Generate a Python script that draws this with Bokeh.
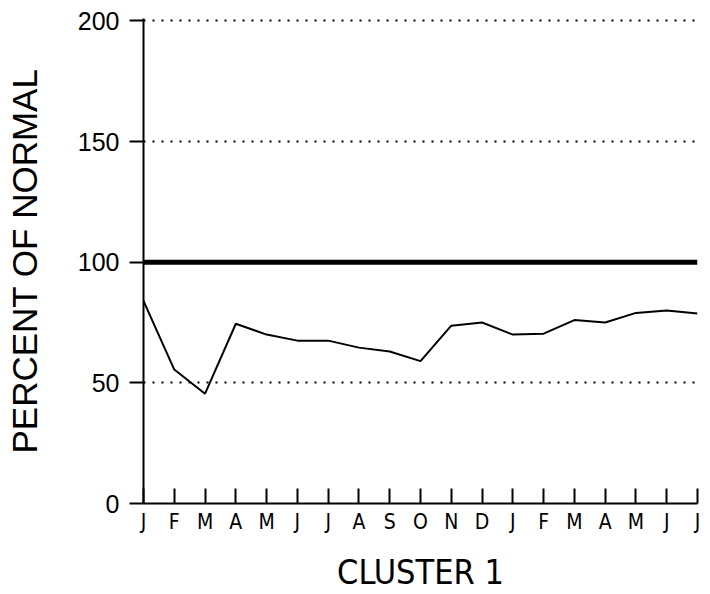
from bokeh.plotting import figure
from bokeh.models import FixedTicker, Span, ColumnDataSource
from bokeh.embed import file_html
from bokeh.resources import INLINE

months = ["J", "F", "M", "A", "M", "J", "J", "A", "S", "O", "N", "D",
          "J", "F", "M", "A", "M", "J", "J"]
percent = [84, 55.5, 45.5, 74.5, 70, 67.5, 67.5, 64.6, 63, 59, 73.7, 75,
           70, 70.4, 76, 75, 79, 80, 78.7]
y_ticks = [0, 50, 100, 150, 200]
normal_level = 100

NARROW = "DejaVu Sans Condensed, Liberation Sans"

idx = list(range(len(months)))
src = ColumnDataSource(dict(x=idx, y=percent))

p = figure(width=702, height=594, output_backend="svg", toolbar_location=None,
           x_range=(0, len(months) - 1), y_range=(0, 201),
           min_border_left=143, min_border_right=5, min_border_top=18,
           min_border_bottom=91)
p.outline_line_color = None
p.background_fill_color = "white"
p.border_fill_color = "white"

# dotted grid
p.xgrid.visible = False
p.ygrid.ticker = FixedTicker(ticks=y_ticks)
p.ygrid.grid_line_color = "black"
p.ygrid.grid_line_dash = "2 7"
p.ygrid.grid_line_width = 2

# normal level
p.add_layout(Span(location=normal_level, dimension="width", line_color="black",
                  line_width=5))

p.line("x", "y", source=src, line_color="black", line_width=2)

# x axis
xa = p.xaxis[0]
xa.ticker = FixedTicker(ticks=idx)
xa.major_label_overrides = {i: m for i, m in enumerate(months)}
xa.major_tick_in = 15
xa.major_tick_out = 0
xa.minor_tick_line_color = None
xa.axis_line_width = 2
xa.major_tick_line_width = 2
xa.axis_line_color = "black"
xa.major_tick_line_color = "black"
xa.major_label_standoff = 6
xa.major_label_text_font = NARROW
xa.major_label_text_font_size = "21px"
xa.major_label_text_color = "black"
xa.axis_label = "CLUSTER 1"
xa.axis_label_text_font = NARROW
xa.axis_label_text_font_size = "34px"
xa.axis_label_text_font_style = "normal"
xa.axis_label_text_color = "black"
xa.axis_label_standoff = 15

# y axis
ya = p.yaxis[0]
ya.ticker = FixedTicker(ticks=y_ticks)
ya.major_tick_in = 0
ya.major_tick_out = 14
ya.minor_tick_line_color = None
ya.axis_line_width = 2
ya.major_tick_line_width = 2
ya.axis_line_color = "black"
ya.major_tick_line_color = "black"
ya.major_label_standoff = 10
ya.major_label_text_font = "Liberation Sans"
ya.major_label_text_font_size = "25px"
ya.major_label_text_color = "black"
ya.axis_label = "PERCENT OF NORMAL"
ya.axis_label_text_font = "Liberation Sans"
ya.axis_label_text_font_size = "35px"
ya.axis_label_text_font_style = "normal"
ya.axis_label_text_color = "black"
ya.axis_label_standoff = 31

open("out.html", "w").write(file_html(p, INLINE))
